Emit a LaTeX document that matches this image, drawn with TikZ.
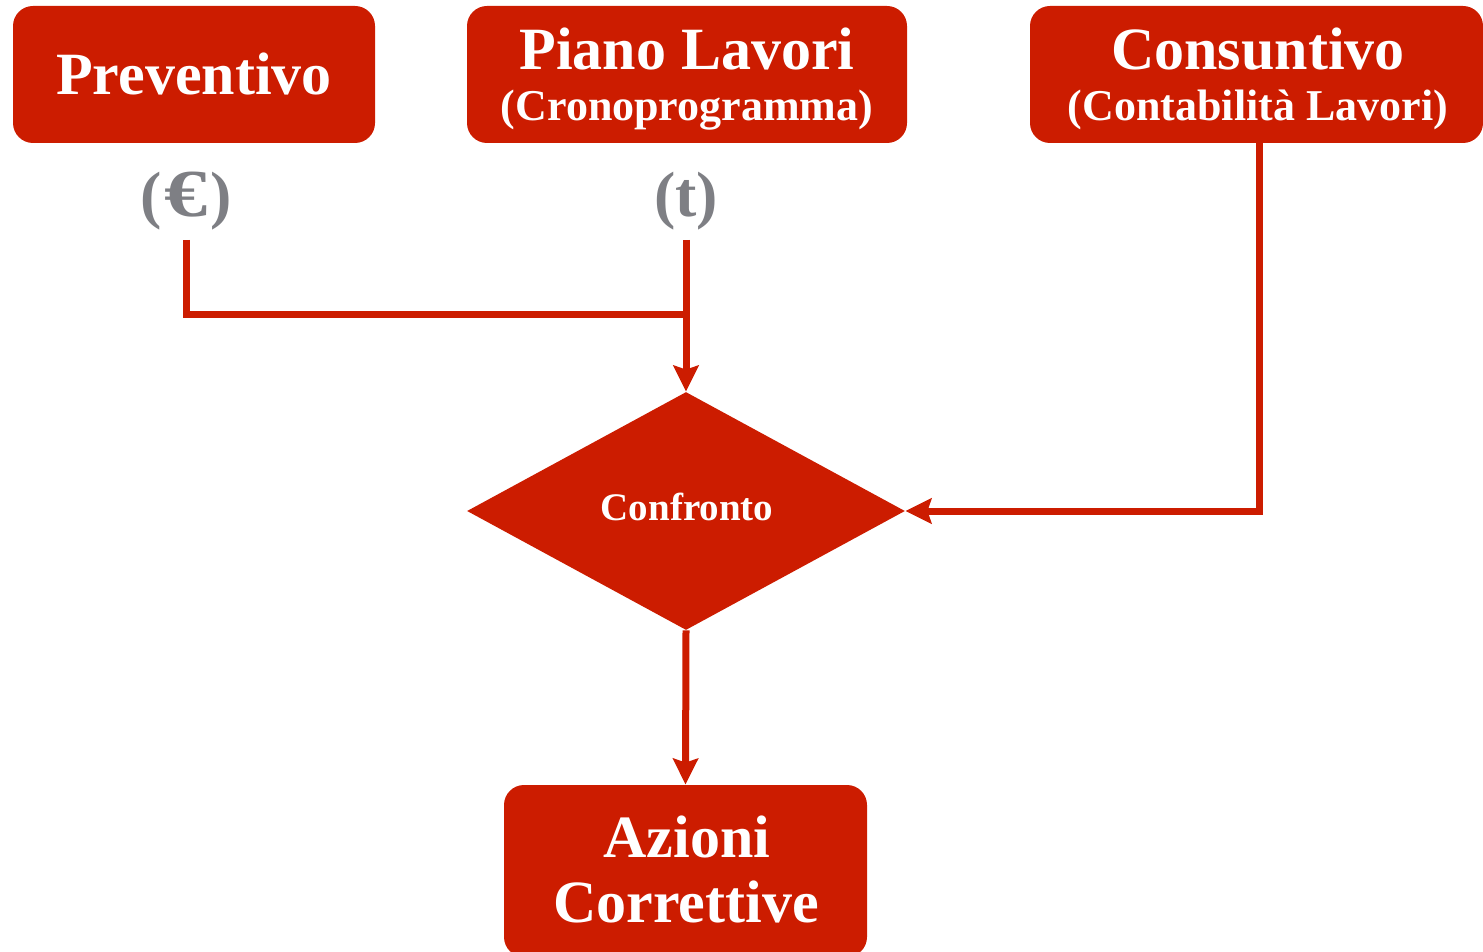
\documentclass[tikz,border=0pt]{standalone}
\usepackage{fontspec}
\setmainfont{Liberation Serif}
\usetikzlibrary{shapes.geometric,arrows.meta}
\definecolor{rosso}{HTML}{CC1C00}
\definecolor{grigio}{HTML}{7E7F84}
\tikzset{
  box/.style={fill=rosso, draw=none, rounded corners=10pt, inner sep=0pt},
  boxtext/.style={text=white, font=\bfseries, anchor=base, inner sep=0pt},
  symb/.style={text=grigio, font=\bfseries\fontsize{32}{36}\selectfont, anchor=base, inner sep=0pt},
  conn/.style={draw=rosso, line width=3.5pt},
  tip/.style={-{Stealth[length=13pt,width=12.5pt,inset=2pt]}},
}
\begin{document}
\begin{tikzpicture}[x=0.5pt,y=-0.5pt]
\useasboundingbox (0,0) rectangle (1483,952);
\begin{scope}
\clip (0,0) rectangle (1483,952);
% boxes
\node[box, minimum width=181pt, minimum height=68.5pt] (prev) at (194,74.5) {};
\node[box, minimum width=220pt, minimum height=68.5pt] (piano) at (687,74.5) {};
\node[box, minimum width=226.5pt, minimum height=68.5pt] (cons) at (1256.5,74.5) {};
\node[box, minimum width=181.5pt, minimum height=86pt] (az) at (685.5,871) {};
\node[diamond, fill=rosso, inner sep=0pt, minimum width=219pt, minimum height=119pt] (dia) at (686,511) {};
\end{scope}
% texts
\node[boxtext, font=\bfseries\fontsize{30}{34}\selectfont] (tprev) at (194,95) {Preventivo};
\node[boxtext, font=\bfseries\fontsize{30}{34}\selectfont] (tpiano1) at (687,70) {Piano Lavori};
\node[boxtext, font=\bfseries\fontsize{22}{26}\selectfont] (tpiano2) at (687,121) {(Cronoprogramma)};
\node[boxtext, font=\bfseries\fontsize{30}{34}\selectfont] (tcons1) at (1258,70) {Consuntivo};
\node[boxtext, font=\bfseries\fontsize{22}{26}\selectfont] (tcons2) at (1258,121) {(Contabilità Lavori)};
\node[boxtext, font=\bfseries\fontsize{19.5}{23}\selectfont] (tconf) at (687,520) {Confronto};
\node[boxtext, font=\bfseries\fontsize{30}{34}\selectfont] (taz1) at (687,857) {Azioni};
\node[boxtext, font=\bfseries\fontsize{30}{34}\selectfont] (taz2) at (686,922) {Correttive};
\node[symb] (eu) at (186,217) {(\kern1.5pt\scalebox{1.35}[1.05]{€}\kern1.5pt)};
\node[symb] (tt) at (686,217) {(t)};
% connectors
\coordinate (eus) at (186,240);
\coordinate (tts) at (686,240);
\coordinate (join) at (686,315);
\coordinate (consout) at (1259,143);
\draw[conn] (eus) |- (join);
\draw[conn, tip] (tts) -- (dia.north);
\draw[conn, tip] (consout) |- (dia.east);
\draw[conn, tip] (dia.south) -- (az.north);
\end{tikzpicture}
\end{document}
